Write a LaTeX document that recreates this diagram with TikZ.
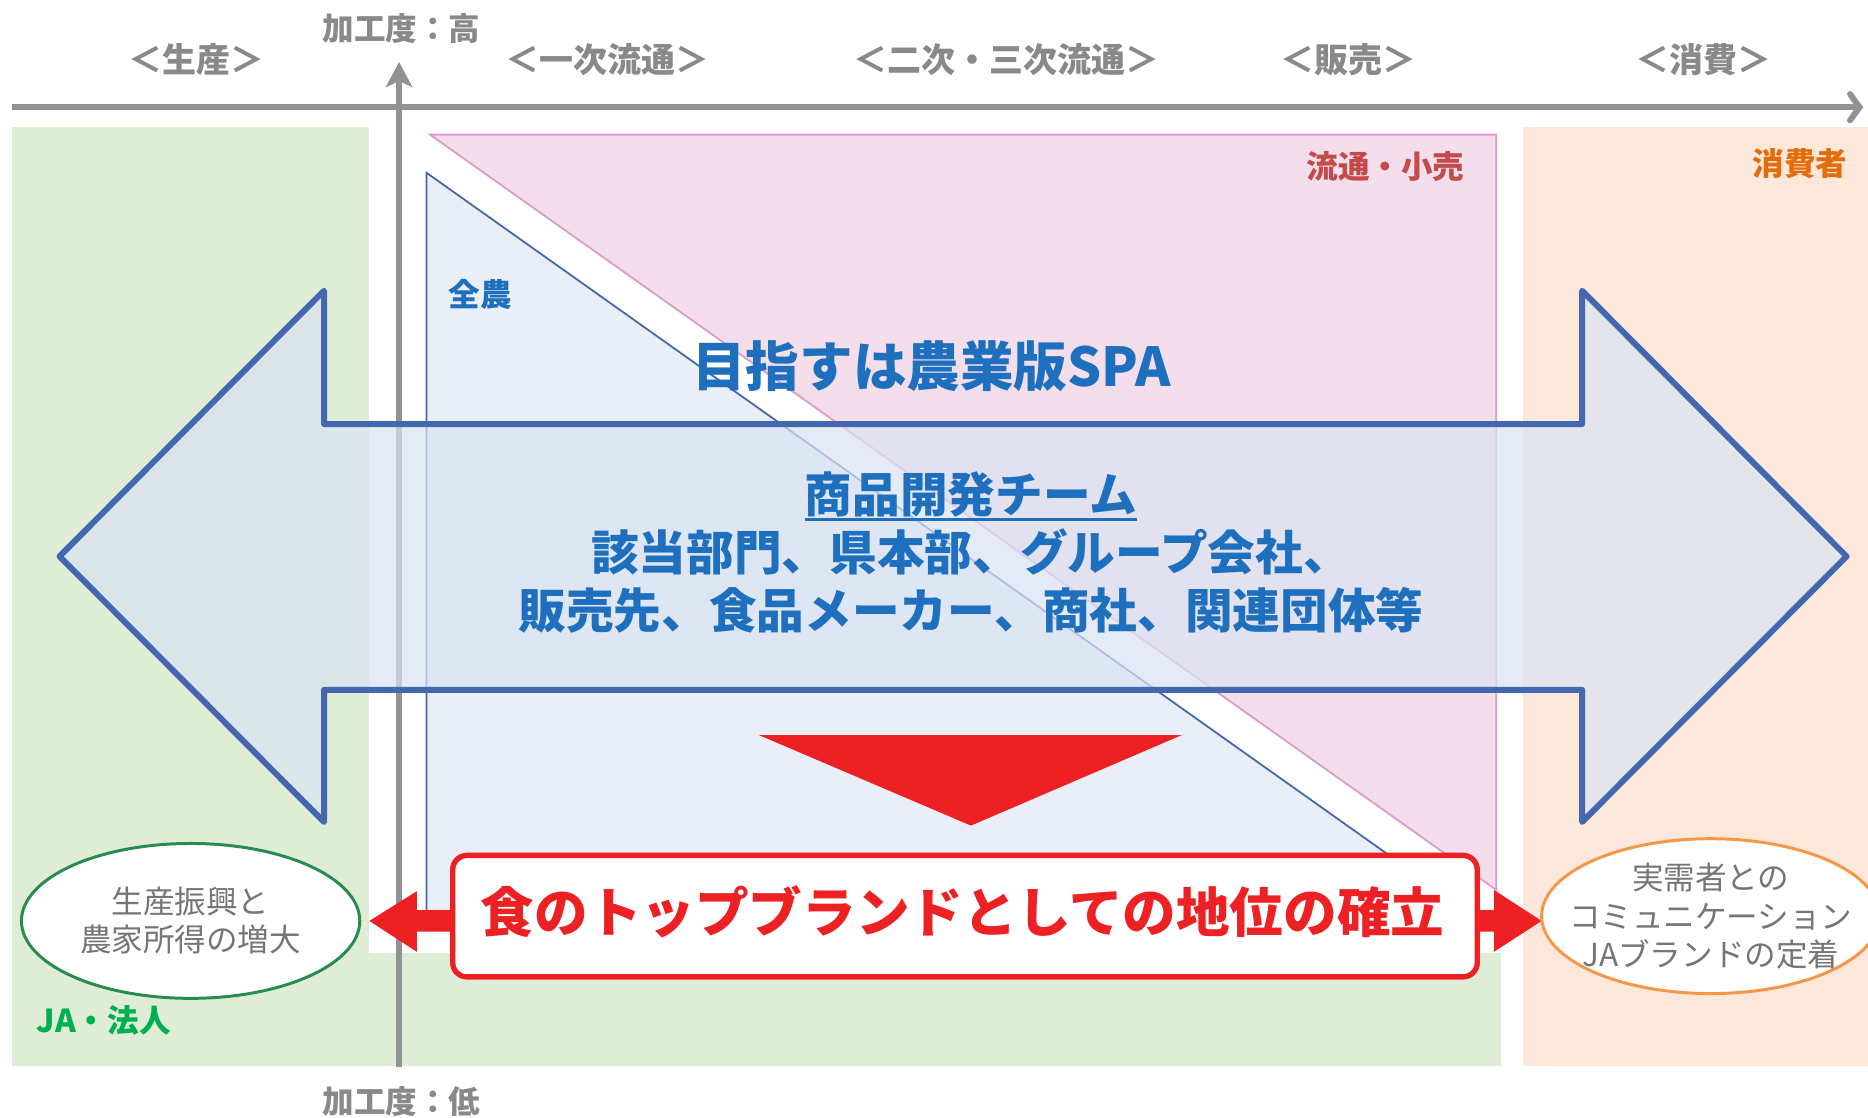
\documentclass[tikz,border=0pt]{standalone}
\usepackage{fontspec}
\setmainfont{Noto Sans CJK JP}
\usetikzlibrary{arrows.meta,shapes.geometric}
\definecolor{axisgray}{RGB}{145,145,150}
\definecolor{hdrgray}{RGB}{137,137,140}
\definecolor{elgray}{RGB}{118,118,118}
\definecolor{greenbg}{RGB}{223,236,214}
\definecolor{peachbg}{RGB}{252,232,218}
\definecolor{pinkbg}{RGB}{244,222,236}
\definecolor{pinkline}{RGB}{220,155,200}
\definecolor{bluebg}{RGB}{233,238,247}
\definecolor{blueline}{RGB}{68,104,176}
\definecolor{txtblue}{RGB}{30,112,190}
\definecolor{arrowfill}{RGB}{218,227,243}
\definecolor{myred}{RGB}{237,32,36}
\definecolor{retailred}{RGB}{196,75,75}
\definecolor{consorange}{RGB}{228,108,10}
\definecolor{jagreen}{RGB}{0,176,80}
\definecolor{ellgreen}{RGB}{40,140,80}
\definecolor{ellorange}{RGB}{247,150,70}
\begin{document}
\begin{tikzpicture}[x=1pt,y=-1pt,
  hdr/.style={text=hdrgray, font=\bfseries\fontsize{28.5}{30}\selectfont, inner sep=0pt},
  axlbl/.style={text=hdrgray, font=\bfseries\fontsize{26.5}{28}\selectfont, inner sep=0pt},
  zonelbl/.style={font=\bfseries\fontsize{26.5}{28}\selectfont, inner sep=0pt},
  teamtxt/.style={text=txtblue, font=\bfseries\fontsize{40}{44}\selectfont, inner sep=0pt},
  ellshape/.style={ellipse, draw, fill=white, line width=2.5pt, inner sep=0pt,
     minimum width=284pt, minimum height=130pt},
  elltxt/.style={text=elgray, font=\fontsize{26.5}{32}\selectfont, align=center, inner sep=0pt},
  axisline/.style={draw=axisgray, line width=5pt},
  redblock/.style={fill=myred, draw=none}
]
\useasboundingbox (0,0) rectangle (1568,938);
\fill[white] (0,0) rectangle (1568,938);

% background zones
\fill[greenbg] (10,107) rectangle (310,895);
\fill[greenbg] (310,800) rectangle (1260,895);
\fill[peachbg] (1278,107) rectangle (1568,895);

% retail triangle and zen-noh triangle
\filldraw[fill=pinkbg, draw=pinkline, line width=1.5pt] (361,113) -- (1256,113) -- (1256,747) -- cycle;
\fill[bluebg] (358,145) -- (358,764) -- (1231,764) -- cycle;
\draw[blueline, line width=1.5pt] (358,764) -- (358,145) -- (1231,764);

% axes
\draw[axisline, -{Straight Barb[length=8pt,width=22pt,line cap=round]}] (10,90) -- (1564,90);
\draw[axisline, -{Stealth[length=21pt,width=22pt,inset=5pt]}] (335,896) -- (335,52);

% header labels
\node[hdr] (h1) at (165,50) {＜生産＞};
\node[hdr] (h2) at (510,50) {＜一次流通＞};
\node[hdr] (h3) at (845,50) {＜二次・三次流通＞};
\node[hdr] (h4) at (1132,50) {＜販売＞};
\node[hdr] (h5) at (1430,50) {＜消費＞};
\node[axlbl] (ahi) at (337,24) {加工度：高};
\node[axlbl] (alo) at (337,925) {加工度：低};

% zone labels
\node[zonelbl, text=retailred] (retail) at (1163,140) {流通・小売};
\node[zonelbl, text=consorange] (cons) at (1511,137) {消費者};
\node[zonelbl, text=txtblue] (zen) at (403,247) {全農};
\node[zonelbl, text=jagreen] (ja) at (87,857) {JA・法人};

% big double arrow
\filldraw[fill=arrowfill, fill opacity=0.7, draw=blueline, line width=5pt, line join=round]
  (50,467) -- (272,244) -- (272,356) -- (1328,356) -- (1328,244) -- (1550,467)
  -- (1328,690) -- (1328,579) -- (272,579) -- (272,690) -- cycle;

% texts
\node[text=txtblue, font=\bfseries\fontsize{45}{50}\selectfont, inner sep=0pt] (spa) at (782,307) {目指すは農業版SPA};
\node[teamtxt] (team) at (815,415) {商品開発チーム};
\draw[txtblue, line width=3pt] ([yshift=-6pt]team.base west) -- ([yshift=-6pt]team.base east);
\node[teamtxt] (mem1) at (815,463) {該当部門、県本部、グループ会社、};
\node[teamtxt] (mem2) at (815,512) {販売先、食品メーカー、商社、関連団体等};

% red downward triangle
\fill[myred] (637,617) -- (992,617) -- (815,693) -- cycle;

% red block arrows
\fill[redblock] (310,773) -- (350,748) -- (350,764) -- (384,764) -- (384,782) -- (350,782) -- (350,799) -- cycle;
\fill[redblock] (1236,764) -- (1254,764) -- (1254,747) -- (1294,773) -- (1254,799) -- (1254,782) -- (1236,782) -- cycle;

% goal box
\node[draw=myred, fill=white, line width=4.5pt, rounded corners=12pt,
      minimum width=860pt, minimum height=102pt, inner sep=0pt] (goal) at (810,769) {};
\node[text=myred, font=\bfseries\fontsize{45}{50}\selectfont, inner sep=0pt] (goaltxt) at (808,765) {食のトップブランドとしての地位の確立};

% ellipses
\node[ellshape, draw=ellgreen] (eleft) at (160,773) {};
\node[elltxt] (elefttxt) at (eleft.center) {生産振興と\\農家所得の増大};
\node[ellshape, draw=ellorange] (eright) at (1436,769) {};
\node[elltxt] (erighttxt) at (eright.center) {実需者との\\コミュニケーション\\JAブランドの定着};
\end{tikzpicture}
\end{document}
